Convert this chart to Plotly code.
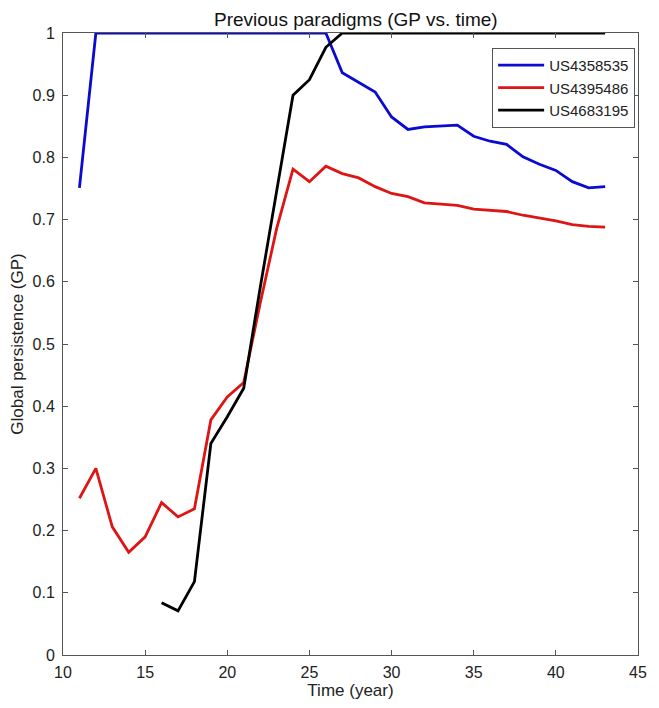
import plotly.graph_objects as go

years_blue = list(range(11, 44))
gp_blue = [0.751] + [1.0] * 15 + [0.936, 0.921, 0.905, 0.865, 0.845, 0.849, 0.851, 0.852,
                                  0.834, 0.826, 0.821, 0.801, 0.789, 0.779, 0.761, 0.751, 0.753]

years_red = list(range(11, 44))
gp_red = [0.252, 0.300, 0.206, 0.165, 0.190, 0.245, 0.222, 0.235, 0.378, 0.415, 0.438,
          0.565, 0.685, 0.781, 0.761, 0.786, 0.774, 0.767, 0.753, 0.742, 0.737, 0.727,
          0.725, 0.723, 0.717, 0.715, 0.713, 0.707, 0.703, 0.698, 0.692, 0.689, 0.688]

years_black = list(range(16, 44))
gp_black = [0.084, 0.071, 0.118, 0.340, 0.383, 0.429, 0.59, 0.745, 0.900, 0.925, 0.977] + [1.0] * 17

names = ["US4358535", "US4395486", "US4683195"]
colors = ["#0a0ad0", "#dd1515", "#000000"]

x_ticks = [10, 15, 20, 25, 30, 35, 40, 45]
y_ticks = [0, 0.1, 0.2, 0.3, 0.4, 0.5, 0.6, 0.7, 0.8, 0.9, 1]
y_labels = ["0", "0.1", "0.2", "0.3", "0.4", "0.5", "0.6", "0.7", "0.8", "0.9", "1"]

FONT = "Liberation Sans, Arial, sans-serif"

fig = go.Figure()
for xs, ys, n, c in [(years_blue, gp_blue, names[0], colors[0]),
                     (years_red, gp_red, names[1], colors[1]),
                     (years_black, gp_black, names[2], colors[2])]:
    fig.add_trace(go.Scatter(x=xs, y=ys, mode="lines", name=n,
                             line=dict(color=c, width=2.8)))

axis_common = dict(showgrid=False, zeroline=False, showline=True, linecolor="#555555",
                   linewidth=1, mirror="allticks", ticks="inside", ticklen=5,
                   tickcolor="#555555",
                   tickfont=dict(family=FONT, size=16, color="#222222"))

fig.update_layout(
    width=659, height=708,
    margin=dict(l=63, r=13, t=33, b=53),
    paper_bgcolor="white", plot_bgcolor="white",
    font=dict(family=FONT, size=16, color="#222222"),
    title=dict(text="Previous paradigms (GP vs. time)", x=0.540, xanchor="center",
               y=0.972, yanchor="middle",
               font=dict(family=FONT, size=19, color="#111111")),
    xaxis=dict(range=[10, 45], tickvals=x_ticks, ticklabelstandoff=3,
               title=dict(text="Time (year)", standoff=3,
                          font=dict(family=FONT, size=17, color="#222222")),
               **axis_common),
    yaxis=dict(range=[0, 1], tickvals=y_ticks, ticktext=y_labels, ticklabelstandoff=4,
               title=dict(text="Global persistence (GP)", standoff=4,
                          font=dict(family=FONT, size=17, color="#222222")),
               **axis_common),
    legend=dict(x=0.995, y=0.976, xanchor="right", yanchor="top",
                bgcolor="white", bordercolor="#555555", borderwidth=1,
                itemwidth=46,
                font=dict(family=FONT, size=15, color="#222222"),
                tracegroupgap=0),
    showlegend=True,
)

fig.write_html("out.html")
